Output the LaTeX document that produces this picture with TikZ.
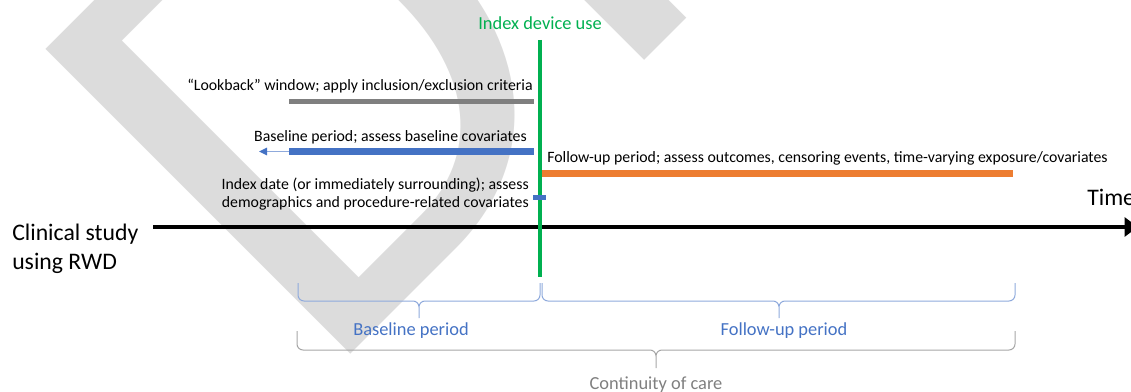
\documentclass[tikz,border=0pt]{standalone}
\usepackage{fontspec}
\setmainfont{Carlito}
\usetikzlibrary{arrows.meta}
\definecolor{idxgreen}{HTML}{00B050}
\definecolor{lookgray}{HTML}{7F7F7F}
\definecolor{baseblue}{HTML}{4472C4}
\definecolor{fuorange}{HTML}{ED7D31}
\definecolor{braceblue}{HTML}{8FAADC}
\definecolor{bracegray}{HTML}{A6A6A6}
\definecolor{draftgray}{HTML}{DCDCDC}
\begin{document}
\begin{tikzpicture}[x=0.75pt,y=-0.75pt,
    small/.style={inner sep=0,font=\fontsize{11.85}{13.5}\selectfont},
    mid/.style={inner sep=0,font=\fontsize{13.8}{16.5}\selectfont},
    big/.style={inner sep=0,font=\fontsize{17.8}{21.75}\selectfont},
    watermark/.style={rotate=45,anchor=base west,inner sep=0,text=draftgray,font=\fontsize{504}{504}\selectfont},
    curly/.style={rounded corners=4.5pt,line width=0.75pt}]
    \clip (0,0) rectangle (1131,392);
    \node[watermark] (draft) at (318,387) {DRAFT};
    \coordinate (idxtop) at (540,40);
    \coordinate (idxbot) at (540,277);
    \coordinate (t0) at (153,227);
    \coordinate (t1) at (1138,227);
    \coordinate (lookl) at (289,101.5);
    \coordinate (lookr) at (534,101.5);
    \coordinate (basel) at (289,151.5);
    \coordinate (baser) at (534,151.5);
    \coordinate (baseend) at (259,151.5);
    \coordinate (ful) at (542,173.5);
    \coordinate (fur) at (1013,173.5);
    \coordinate (dayl) at (533,197.5);
    \coordinate (dayr) at (546,197.5);
    \draw[line width=3pt,-{Triangle[length=10pt,width=14pt]}] (t0) -- (t1);
    \draw[idxgreen,line width=2.5pt] (idxtop) -- (idxbot);
    \draw[lookgray,line width=4pt] (lookl) -- (lookr);
    \draw[baseblue,line width=5pt] (basel) -- (baser);
    \draw[braceblue,line width=1.1pt,-{Triangle[length=6pt,width=5.5pt,color=baseblue]}] (basel) -- (baseend);
    \draw[fuorange,line width=5pt] (ful) -- (fur);
    \draw[baseblue,line width=3.75pt] (dayl) -- (dayr);
    \node[mid,text=idxgreen,anchor=base] (idxlbl) at (540,30) {Index device use};
    \node[small,anchor=base east] (looklbl) at (533,91) {“Lookback” window; apply inclusion/exclusion criteria};
    \node[small,anchor=base east] (baselbl) at (527,142) {Baseline period; assess baseline covariates};
    \node[small,anchor=base west] (fulbl) at (547,162) {Follow-up period; assess outcomes, censoring events, time-varying exposure/covariates};
    \node[small,anchor=base east,align=right] (daylbl) at (529,208) {Index date (or immediately surrounding); assess\\demographics and procedure-related covariates};
    \node[big,anchor=base west,align=left] (study) at (12,269.5) {Clinical study\\using RWD};
    \node[big,anchor=base west] (time) at (1087,205) {Time};
    \draw[curly,braceblue] (298,283) -- (298,301) -- (419,301) -- (419,318)
        (540,283) -- (540,301) -- (419,301) -- (419,318);
    \draw[curly,braceblue] (542,283) -- (542,301) -- (779,301) -- (779,318)
        (1015,283) -- (1015,301) -- (779,301) -- (779,318);
    \draw[curly,bracegray] (297,331) -- (297,350) -- (656,350) -- (656,368)
        (1015,331) -- (1015,350) -- (656,350) -- (656,368);
    \node[mid,text=baseblue,anchor=base] (bplbl) at (411,335) {Baseline period};
    \node[mid,text=baseblue,anchor=base] (fuplbl) at (784,335) {Follow-up period};
    \node[mid,text=lookgray,anchor=base] (carelbl) at (656,389) {Continuity of care};
\end{tikzpicture}
\end{document}
